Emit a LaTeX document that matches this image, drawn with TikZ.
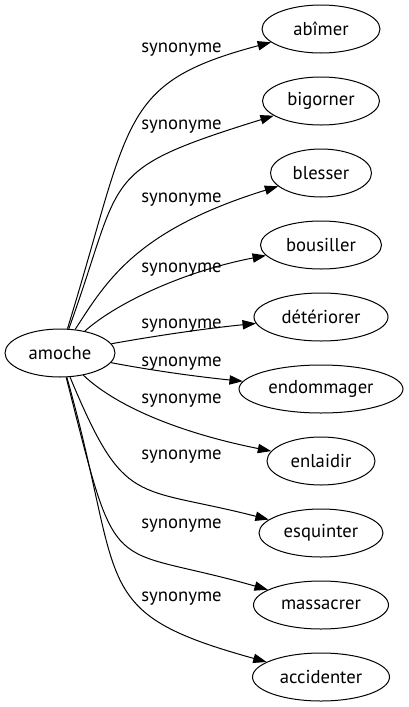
\documentclass[tikz,border=0pt]{standalone}
\usepackage{fontspec}
\setmainfont{PT Sans}
\usetikzlibrary{shapes.geometric,arrows.meta}

\begin{document}
\begin{tikzpicture}[x=0.75pt,y=-0.75pt,font=\fontsize{14pt}{17pt}\selectfont]
\useasboundingbox (0,0) rectangle (409,707);
\tikzset{WordStyle/.style={shape=ellipse, draw, line width=0.75pt, inner sep=0, minimum height=36pt}}
\node[WordStyle, minimum width=82.5pt] (amoche) at (60,353) {amoche};
\node[WordStyle, minimum width=88.5pt] (abimer) at (321,29) {abîmer};
\node[WordStyle, minimum width=87.75pt] (bigorner) at (321,101) {bigorner};
\node[WordStyle, minimum width=75.75pt] (blesser) at (321,173) {blesser};
\node[WordStyle, minimum width=90.75pt] (bousiller) at (321,245) {bousiller};
\node[WordStyle, minimum width=100.5pt] (deteriorer) at (321,317) {détériorer};
\node[WordStyle, minimum width=123pt] (endommager) at (321,389) {endommager};
\node[WordStyle, minimum width=81pt] (enlaidir) at (321,461) {enlaidir};
\node[WordStyle, minimum width=93pt] (esquinter) at (321,533) {esquinter};
\node[WordStyle, minimum width=101.25pt] (massacrer) at (321,605) {massacrer};
\node[WordStyle, minimum width=102.75pt] (accidenter) at (321,677) {accidenter};
\tikzset{LabelStyle/.style={anchor=base, inner sep=0}}
\node[LabelStyle] (syn1) at (181.5,52) {synonyme};
\node[LabelStyle] (syn2) at (181.5,129) {synonyme};
\node[LabelStyle] (syn3) at (181.5,202) {synonyme};
\node[LabelStyle] (syn4) at (181.5,272) {synonyme};
\node[LabelStyle] (syn5) at (181.5,328) {synonyme};
\node[LabelStyle] (syn6) at (181.5,366) {synonyme};
\node[LabelStyle] (syn7) at (181.5,403) {synonyme};
\node[LabelStyle] (syn8) at (181.5,459) {synonyme};
\node[LabelStyle] (syn9) at (181.5,528) {synonyme};
\node[LabelStyle] (syn10) at (181.5,601) {synonyme};
\tikzset{EdgeStyle/.style={-{Triangle[length=10pt,width=7pt]}, line width=0.75pt}}
\draw[EdgeStyle] (amoche) .. controls (132,119) and (118,83) .. (abimer);
\draw[EdgeStyle] (amoche) .. controls (125,174) and (96,171) .. (bigorner);
\draw[EdgeStyle] (amoche) .. controls (107,280) and (137,230) .. (blesser);
\draw[EdgeStyle] (amoche) .. controls (120,300) and (190,270) .. (bousiller);
\draw[EdgeStyle] (amoche) .. controls (160,335) and (210,328) .. (deteriorer);
\draw[EdgeStyle] (amoche) .. controls (155,371) and (200,377) .. (endommager);
\draw[EdgeStyle] (amoche) .. controls (120,410) and (190,435) .. (enlaidir);
\draw[EdgeStyle] (amoche) .. controls (125,509) and (134,485) .. (esquinter);
\draw[EdgeStyle] (amoche) .. controls (119.5,587) and (103.5,542.6) .. (massacrer);
\draw[EdgeStyle] (amoche) .. controls (126,587) and (86,612) .. (accidenter);
\end{tikzpicture}
\end{document}
